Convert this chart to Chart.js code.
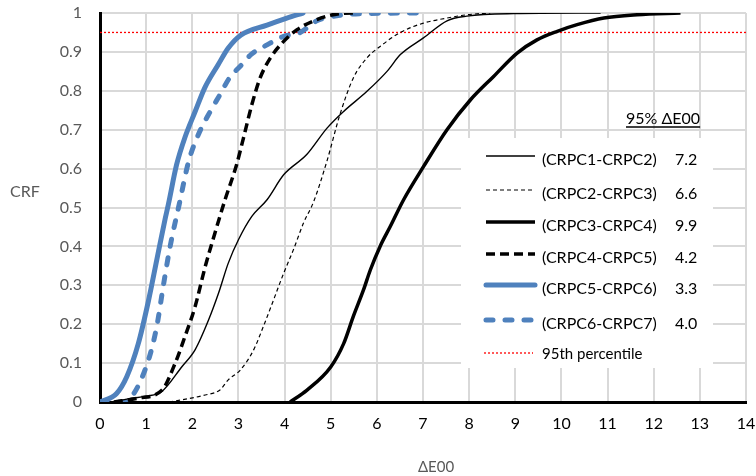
<!DOCTYPE html>
<html>
<head>
  <meta charset="UTF-8" />
  <title>CRF of ΔE00</title>
  <script src="https://cdn.jsdelivr.net/npm/chart.js@4"></script>
  <style>
    body { margin: 0; background: #fff; }
    #wrap { width: 756px; height: 476px; }
  </style>
</head>
<body>
  <div id="wrap"><canvas id="crf"></canvas></div>
  <script>
    // series (x = ΔE00, y = CRF)
    const seriesLabels = ["(CRPC1-CRPC2)", "(CRPC2-CRPC3)", "(CRPC3-CRPC4)", "(CRPC4-CRPC5)", "(CRPC5-CRPC6)", "(CRPC6-CRPC7)"];
    const p95Values = ["7.2", "6.6", "9.9", "4.2", "3.3", "4.0"];

    const s1x = [0.3, 0.61, 1.0, 1.34, 1.77, 2.06, 2.35, 2.57, 2.78, 3.0, 3.29, 3.62, 3.98, 4.48, 4.92, 5.28, 5.78, 6.22, 6.51, 7.01, 7.52, 7.95, 8.97, 10.85];
    const s1y = [0, 0.008, 0.015, 0.027, 0.09, 0.134, 0.21, 0.28, 0.357, 0.417, 0.477, 0.52, 0.584, 0.636, 0.704, 0.747, 0.798, 0.85, 0.893, 0.936, 0.98, 0.992, 0.9985, 1];

    const s2x = [1.5, 2.28, 2.6, 2.78, 3.04, 3.33, 3.54, 3.76, 3.98, 4.19, 4.41, 4.63, 4.92, 5.2, 5.49, 5.78, 6.07, 6.51, 7.01, 7.52, 7.95, 8.46];
    const s2y = [0, 0.018, 0.031, 0.057, 0.082, 0.134, 0.194, 0.262, 0.331, 0.391, 0.46, 0.515, 0.62, 0.739, 0.833, 0.884, 0.914, 0.95, 0.974, 0.987, 0.9955, 1];

    const s3x = [4.12, 4.48, 5.0, 5.28, 5.49, 5.71, 5.86, 6.07, 6.29, 6.58, 7.01, 7.52, 8.03, 8.53, 9.04, 9.47, 9.91, 10.34, 10.92, 11.64, 12.58];
    const s3y = [0, 0.03, 0.09, 0.15, 0.22, 0.288, 0.34, 0.4, 0.451, 0.52, 0.605, 0.7, 0.777, 0.837, 0.897, 0.931, 0.953, 0.97, 0.987, 0.9955, 1];

    const s4x = [0.3, 0.83, 1.34, 1.63, 1.84, 2.06, 2.28, 2.49, 2.71, 2.96, 3.11, 3.29, 3.47, 3.69, 3.98, 4.27, 4.7, 5.2, 5.57];
    const s4y = [0, 0.01, 0.03, 0.1, 0.168, 0.245, 0.348, 0.434, 0.52, 0.61, 0.679, 0.764, 0.833, 0.884, 0.927, 0.957, 0.983, 0.9985, 1];

    const s5x = [0, 0.36, 0.58, 0.83, 1.05, 1.23, 1.41, 1.48, 1.66, 1.84, 2.06, 2.28, 2.56, 2.78, 3.05, 3.62, 4.05, 4.4];
    const s5y = [0, 0.022, 0.065, 0.15, 0.26, 0.365, 0.47, 0.507, 0.61, 0.68, 0.746, 0.81, 0.867, 0.91, 0.943, 0.969, 0.987, 1];

    const s6x = [0, 0.5, 0.69, 1.05, 1.23, 1.37, 1.52, 1.72, 1.92, 2.13, 2.39, 2.6, 2.8, 3.07, 3.27, 3.62, 3.98, 4.34, 4.7, 5.2, 5.78, 6.9];
    const s6y = [0, 0, 0.014, 0.108, 0.194, 0.297, 0.4, 0.51, 0.618, 0.687, 0.747, 0.79, 0.832, 0.867, 0.893, 0.918, 0.94, 0.95, 0.98, 0.994, 0.9985, 1];

    const percentileLabel = "95th percentile";
    const percentileX = [0, 14];
    const percentileY = [0.95, 0.95];

    const xTicks = [0, 14, 1];   // min, max, step
    const yTicks = [0, 1, 0.1];

    const pts = (xs, ys) => xs.map((x, i) => ({ x: x, y: ys[i] }));

    const BLUE = "#4F81BD";
    const FONT = "Lato, 'Open Sans', sans-serif";

    const styles = [
      { borderColor: "#000", borderWidth: 1.4, borderDash: [] },
      { borderColor: "#000", borderWidth: 1.2, borderDash: [4, 3] },
      { borderColor: "#000", borderWidth: 3.5, borderDash: [] },
      { borderColor: "#000", borderWidth: 3.5, borderDash: [9, 5] },
      { borderColor: BLUE, borderWidth: 5, borderDash: [], borderCapStyle: "round" },
      { borderColor: BLUE, borderWidth: 5, borderDash: [7, 12], borderCapStyle: "round" }
    ];
    const xs = [s1x, s2x, s3x, s4x, s5x, s6x];
    const ys = [s1y, s2y, s3y, s4y, s5y, s6y];

    const datasets = seriesLabels.map((label, i) => Object.assign({
      label: label,
      data: pts(xs[i], ys[i]),
      pointRadius: 0,
      fill: false,
      cubicInterpolationMode: "monotone"
    }, styles[i]));

    datasets.push({
      label: percentileLabel,
      data: pts(percentileX, percentileY),
      borderColor: "#FF0000",
      borderWidth: 1.3,
      borderDash: [2, 2],
      pointRadius: 0,
      fill: false
    });

    // Excel-like legend box with the 95% values, plus the two axis titles
    const legendBox = {
      id: "legendBox",
      afterDraw(chart) {
        const ctx = chart.ctx;
        ctx.save();
        ctx.fillStyle = "#fff";
        ctx.fillRect(461, 138, 252, 230);

        ctx.font = "16px " + FONT;
        ctx.fillStyle = "#000";
        ctx.textBaseline = "middle";
        ctx.textAlign = "left";
        ctx.fillText("95% ΔE00", 626, 119);
        const tw = ctx.measureText("95% ΔE00").width;
        ctx.strokeStyle = "#000";
        ctx.lineWidth = 1.5;
        ctx.beginPath();
        ctx.moveTo(626, 127);
        ctx.lineTo(626 + tw, 127);
        ctx.stroke();

        const rowY = [160, 194, 226, 258, 289, 324, 354];
        chart.data.datasets.forEach((ds, i) => {
          const y = rowY[i];
          const lineY = i < 6 ? y - 4 : y - 1;
          ctx.strokeStyle = ds.borderColor;
          ctx.lineWidth = ds.borderWidth;
          ctx.setLineDash(ds.borderDash || []);
          ctx.lineCap = ds.borderCapStyle || "butt";
          ctx.beginPath();
          ctx.moveTo(i < 6 ? 486 : 484, lineY);
          ctx.lineTo(i < 6 ? 535 : 533, lineY);
          ctx.stroke();
          ctx.setLineDash([]);
          ctx.lineCap = "butt";
          ctx.fillStyle = "#000";
          ctx.font = (i < 6 ? "16px " : "15px ") + FONT;
          ctx.fillText(ds.label, 542, y);
          if (i < 6) ctx.fillText(p95Values[i], 675, y);
        });

        ctx.fillStyle = "#595959";
        ctx.font = "16px " + FONT;
        ctx.textAlign = "center";
        ctx.fillText("CRF", 25, 192);
        ctx.font = "15px " + FONT;
        ctx.fillText("ΔE00", 436, 467);
        ctx.restore();
      }
    };

    new Chart(document.getElementById("crf"), {
      type: "line",
      data: { datasets: datasets },
      options: {
        responsive: true,
        maintainAspectRatio: false,
        animation: false,
        layout: { padding: { left: 0, right: 10, top: 13, bottom: 0 } },
        plugins: {
          legend: { display: false },
          tooltip: { enabled: false }
        },
        scales: {
          x: {
            type: "linear",
            min: xTicks[0],
            max: xTicks[1],
            ticks: { stepSize: xTicks[2], color: "#000", padding: 12, font: { size: 16, family: FONT } },
            grid: { color: "#d9d9d9", lineWidth: 2, drawTicks: false },
            border: { color: "#000", width: 3 },
            afterFit: (s) => { s.height = 74; s.paddingLeft = 0; s.paddingRight = 0; }
          },
          y: {
            min: yTicks[0],
            max: yTicks[1],
            ticks: {
              stepSize: yTicks[2],
              color: "#595959",
              padding: 18,
              font: { size: 16, family: FONT },
              callback: (v) => (v === 0 || v === 1) ? String(v) : v.toFixed(1)
            },
            grid: { color: "#d9d9d9", lineWidth: 2, drawTicks: false },
            border: { color: "#000", width: 3 },
            afterFit: (s) => { s.width = 100; s.paddingTop = 0; s.paddingBottom = 0; }
          }
        }
      },
      plugins: [legendBox]
    });
  </script>
</body>
</html>
